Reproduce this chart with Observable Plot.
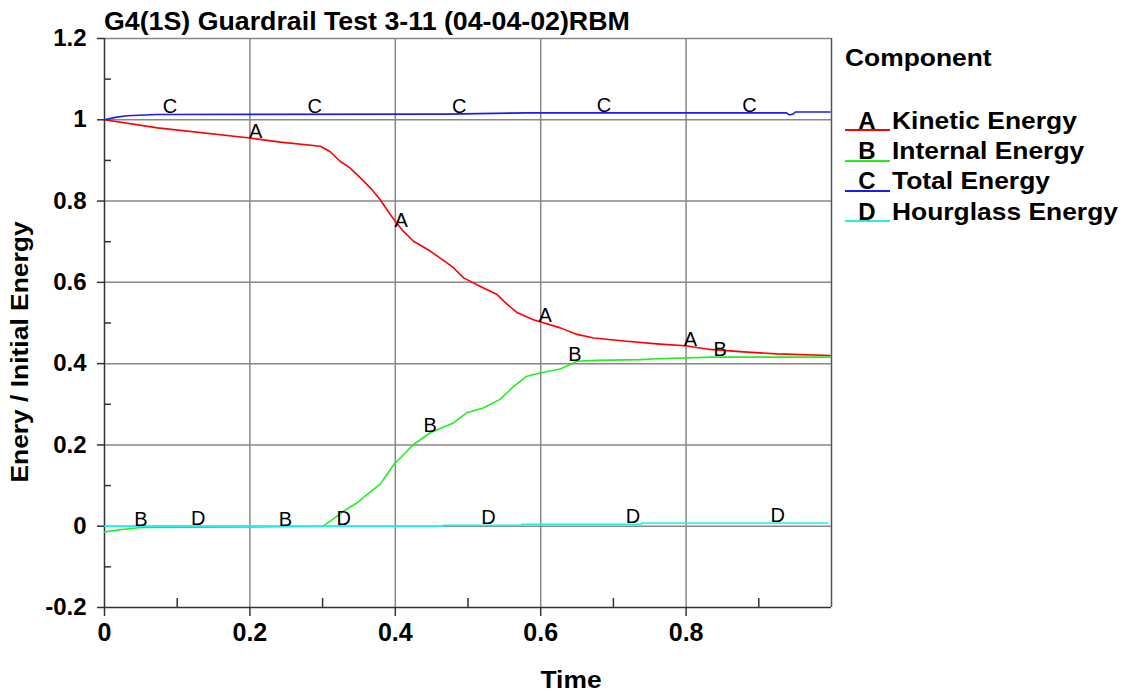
<!DOCTYPE html>
<html><head><meta charset="utf-8">
<script src="https://cdn.jsdelivr.net/npm/d3@7"></script>
<script src="https://cdn.jsdelivr.net/npm/@observablehq/plot@0.6"></script>
<style>
body{margin:0;background:#fff;}
#wrap{position:relative;width:1128px;height:692px;font-family:"Liberation Sans",Arial,sans-serif;overflow:hidden;}
#wrap svg{position:absolute;left:0;top:0;}
.t{position:absolute;line-height:1;white-space:nowrap;font-weight:bold;color:#000;}
.sw{position:absolute;height:2px;}
</style></head><body><div id="wrap"></div>
<script>
// ---------- data ----------
const title = "G4(1S) Guardrail Test 3-11 (04-04-02)RBM";
const xLabel = "Time";
const yLabel = "Enery / Initial Energy";
const legendTitle = "Component";
const seriesKeys = ["A", "B", "C", "D"];
const seriesNames = ["Kinetic Energy", "Internal Energy", "Total Energy", "Hourglass Energy"];
const seriesColors = ["#ff0000", "#22ee22", "#1c1cee", "#22eeee"];

const timeA = [0, 0.073, 0.2, 0.242, 0.297, 0.31, 0.324, 0.338, 0.352, 0.366, 0.379, 0.393, 0.40, 0.411, 0.425, 0.448, 0.471, 0.48, 0.494, 0.517, 0.54, 0.554, 0.568, 0.59, 0.627, 0.65, 0.673, 0.718, 0.764, 0.799, 0.833, 0.879, 0.925, 0.998];
const kinetic = [1.0, 0.98, 0.955, 0.945, 0.935, 0.922, 0.898, 0.881, 0.857, 0.832, 0.804, 0.767, 0.75, 0.726, 0.701, 0.677, 0.648, 0.636, 0.611, 0.590, 0.570, 0.546, 0.525, 0.508, 0.488, 0.472, 0.463, 0.455, 0.448, 0.444, 0.435, 0.429, 0.424, 0.420];

const timeB = [0, 0.024, 0.05, 0.2, 0.301, 0.32, 0.329, 0.347, 0.361, 0.379, 0.398, 0.425, 0.448, 0.48, 0.498, 0.521, 0.544, 0.563, 0.581, 0.599, 0.627, 0.65, 0.677, 0.737, 0.76, 0.837, 0.998];
const internal = [-0.014, -0.008, -0.003, -0.002, 0.0, 0.025, 0.037, 0.057, 0.078, 0.103, 0.152, 0.201, 0.230, 0.254, 0.279, 0.291, 0.312, 0.344, 0.369, 0.377, 0.387, 0.406, 0.408, 0.41, 0.412, 0.416, 0.416];

const timeC = [0, 0.015, 0.031, 0.072, 0.47, 0.58, 0.938, 0.942, 0.948, 0.95, 0.998];
const total = [1.0, 1.006, 1.01, 1.013, 1.014, 1.017, 1.017, 1.012, 1.015, 1.019, 1.019];

const timeD = [0, 0.466, 0.574, 0.739, 0.995];
const hourglass = [0, 0.002, 0.005, 0.008, 0.008];

// times where the curve letters are written
const labelTimesA = [0.208, 0.408, 0.606, 0.806];
const labelTimesB = [0.05, 0.249, 0.448, 0.647, 0.847];
const labelTimesC = [0.09, 0.289, 0.488, 0.687, 0.887];
const labelTimesD = [0.129, 0.329, 0.528, 0.727, 0.926];

const xTicks = [0, 0.2, 0.4, 0.6, 0.8];
const xMinor = [0.1, 0.3, 0.5, 0.7, 0.9];
const yTicks = [-0.2, 0, 0.2, 0.4, 0.6, 0.8, 1, 1.2];
const yMinor = [-0.1, 0.1, 0.3, 0.5, 0.7, 0.9, 1.1];

// ---------- build ----------
const times = [timeA, timeB, timeC, timeD];
const values = [kinetic, internal, total, hourglass];
const labelTimes = [labelTimesA, labelTimesB, labelTimesC, labelTimesD];
const curves = ["linear", "linear", "linear", "step-after"];

function valueAt(ts, vs, t, step) {
  const i = d3.bisectRight(ts, t);
  if (i <= 0) return vs[0];
  if (i >= ts.length) return vs[vs.length - 1];
  if (step) return vs[i - 1];
  const f = (t - ts[i - 1]) / (ts[i] - ts[i - 1]);
  return vs[i - 1] + f * (vs[i] - vs[i - 1]);
}

const lineMarks = seriesKeys.map((k, s) =>
  Plot.line(times[s].map((t, i) => ({t, v: values[s][i]})), {
    x: "t", y: "v", stroke: seriesColors[s], strokeWidth: 1.6, curve: curves[s]
  })
);

const letterRows = [];
seriesKeys.forEach((k, s) => {
  labelTimes[s].forEach(t => letterRows.push({k, t, v: valueAt(times[s], values[s], t, curves[s] === "step-after")}));
});

const fontFam = "'Liberation Sans', Arial, sans-serif";
const fmt = d => String(+d.toFixed(1));

const chart = Plot.plot({
  width: 1128, height: 692,
  marginLeft: 104, marginRight: 297, marginTop: 38, marginBottom: 85,
  x: {domain: [0, 1]},
  y: {domain: [-0.2, 1.2]},
  style: {fontFamily: fontFam, background: "transparent", color: "#000"},
  marks: [
    Plot.ruleX(xTicks.filter(d => d !== 0), {stroke: "#888", strokeWidth: 1.5}),
    Plot.ruleY(yTicks.filter(d => d !== -0.2), {stroke: "#888", strokeWidth: 1.5}),
    Plot.ruleX([1], {stroke: "#555", strokeWidth: 1.5}),
    Plot.tickX(xMinor, {x: d => d, insetTop: 560, stroke: "#333", strokeWidth: 1.5}),
    Plot.tickY(yMinor, {y: d => d, insetRight: 720, stroke: "#333", strokeWidth: 1.5}),
    Plot.ruleX([0], {stroke: "#333", strokeWidth: 1.5}),
    Plot.ruleY([-0.2], {stroke: "#333", strokeWidth: 1.5}),
    ...lineMarks,
    Plot.text(letterRows, {x: "t", y: "v", text: "k", lineAnchor: "bottom", dy: -1, fontSize: 20, fontWeight: 500, fill: "#000"}),
    Plot.axisX({ticks: xTicks, tickSize: 9, tickPadding: 7, fontSize: 25, fontWeight: "bold", label: null, tickFormat: fmt, stroke: "#333", strokeWidth: 1.5}),
    Plot.axisY({ticks: yTicks, tickSize: 7, tickPadding: 11, fontSize: 24, fontWeight: "bold", label: null, tickFormat: fmt, stroke: "#333", strokeWidth: 1.5})
  ]
});

const wrap = document.getElementById("wrap");
wrap.appendChild(chart);

const SX = 1.1;
function addText(str, left, baseline, fs, opts = {}) {
  const el = document.createElement("div");
  el.className = "t";
  el.textContent = str;
  el.style.fontSize = fs + "px";
  el.style.left = left + "px";
  el.style.top = (baseline - 0.8465 * fs) + "px";
  if (opts.weight) el.style.fontWeight = opts.weight;
  el.style.transformOrigin = "0 0";
  el.style.transform = `scaleX(${opts.sx || SX})`;
  wrap.appendChild(el);
  return el;
}

// title
addText(title, 104, 30, 25, {sx: 1.07});
// x label (centered)
const xl = addText(xLabel, 0, 688, 24);
xl.style.width = "200px"; xl.style.textAlign = "center"; xl.style.left = (571 - 100) + "px";
xl.style.transformOrigin = "50% 50%";
// y label (rotated)
const yl = addText(yLabel, 0, 0, 24);
yl.style.width = "400px"; yl.style.textAlign = "center";
yl.style.height = "24px";
yl.style.left = (19.7 - 200) + "px";
yl.style.top = (352 - 12) + "px";
yl.style.transformOrigin = "50% 50%";
yl.style.transform = `rotate(-90deg) scaleX(${SX})`;

// legend
addText(legendTitle, 845, 66, 24);
const rowBase = [129, 159.5, 189.5, 220];
seriesKeys.forEach((k, i) => {
  const key = addText(k, 0, rowBase[i], 24, {sx: 1});
  key.style.width = "40px"; key.style.textAlign = "center"; key.style.left = (867 - 20) + "px";
  addText(seriesNames[i], 891.5, rowBase[i], 24);
  const sw = document.createElement("div");
  sw.className = "sw";
  sw.style.left = "845px"; sw.style.width = "45px";
  sw.style.top = (rowBase[i]) + "px";
  sw.style.background = seriesColors[i];
  wrap.appendChild(sw);
});
</script>
</body></html>
